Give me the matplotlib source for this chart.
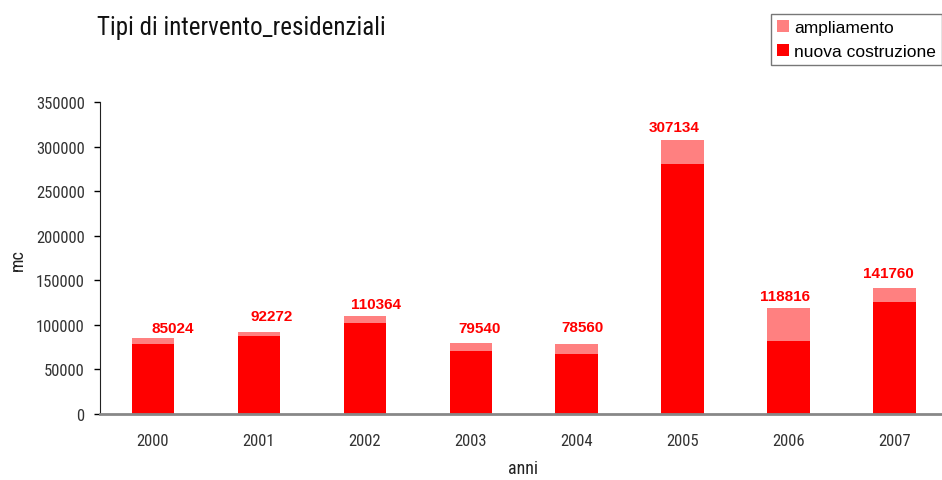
import matplotlib
matplotlib.use('Agg')
import matplotlib.pyplot as plt
import numpy as np

# Volumes (mc) per year, split by type of work
anni = ['2000', '2001', '2002', '2003', '2004', '2005', '2006', '2007']
nuova_costruzione = [79000, 88000, 102000, 70500, 67000, 281000, 81500, 126000]
totali = [85024, 92272, 110364, 79540, 78560, 307134, 118816, 141760]
ampliamento = [t - n for t, n in zip(totali, nuova_costruzione)]

# nudge of each total label from the top of its bar, in points
label_dx = [14.5, 9.5, 8, 6.5, 4.5, -6, -2.5, -4.5]
label_dy = [7.5, 11, 8.5, 11, 12.5, 9.5, 9, 10.5]

narrow = ['Roboto Condensed', 'DejaVu Sans']
plain = ['Liberation Sans', 'DejaVu Sans']

fig = plt.figure(figsize=(9.42, 4.81), dpi=100)
ax = fig.add_axes([100 / 942, 66 / 481, 842 / 942, 312 / 481])

x = np.arange(len(anni))
b1 = ax.bar(x, nuova_costruzione, width=0.4, color='#FF0000', label='nuova costruzione')
b2 = ax.bar(x, ampliamento, width=0.4, bottom=nuova_costruzione, color='#FF8080',
            label='ampliamento')

# totals above each stack
for xi, tot, dx, dy in zip(x, totali, label_dx, label_dy):
    ax.annotate(str(tot), (xi, tot), xytext=(dx, dy), textcoords='offset points',
                ha='center', va='center', color='#FF0000', fontsize=11,
                fontweight='bold', family=plain)

ax.set_xlim(-0.5, 7.45)
ax.set_ylim(0, 350000)
ax.set_yticks(np.arange(0, 350001, 50000))
ax.set_xticks(x)
ax.set_xticklabels(anni)
ax.tick_params(axis='x', length=0, pad=14, labelsize=12, labelcolor='#333333')
ax.tick_params(axis='y', length=4, width=1, direction='out', labelsize=12,
               labelcolor='#333333', pad=7)
for lbl in ax.get_xticklabels() + ax.get_yticklabels():
    lbl.set_family(narrow)

ax.spines['top'].set_visible(False)
ax.spines['right'].set_visible(False)
ax.spines['left'].set_color('#222222')
ax.spines['bottom'].set_color('#888888')
ax.spines['bottom'].set_linewidth(2)

fig.text(18 / 942, 1 - 260 / 481, 'mc', fontsize=13, family=narrow, color='#222222',
         rotation=90, ha='center', va='center')
fig.text(523 / 942, 1 - 469 / 481, 'anni', fontsize=13, family=narrow, color='#222222',
         ha='center', va='center')

fig.text(97 / 942, 1 - 28 / 481, 'Tipi di intervento_residenziali', fontsize=18,
         family=narrow, va='center', ha='left', color='#111111')

fig.legend(handles=[b2, b1], loc='upper left', bbox_to_anchor=(771 / 942, 1 - 15 / 481),
           frameon=True, fancybox=False, edgecolor='#555555',
           prop={'family': plain, 'size': 12.5}, handlelength=0.7, handleheight=0.7,
           handletextpad=0.3, borderpad=0.35, labelspacing=0.5, borderaxespad=0)

fig.savefig('out.png', dpi=100)
